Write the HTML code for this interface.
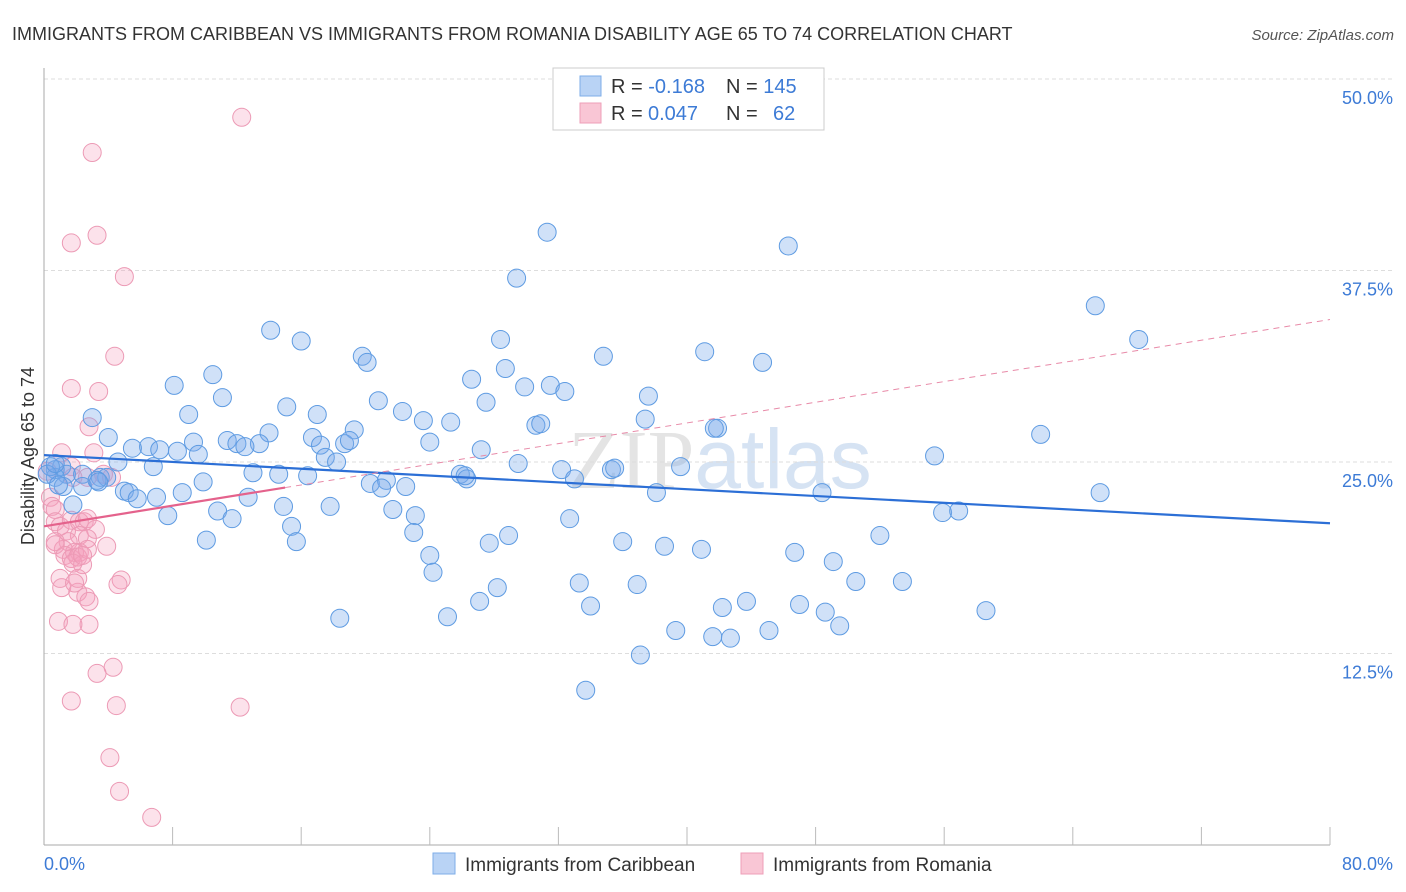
<!DOCTYPE html>
<html><head><meta charset="utf-8">
<style>
body{margin:0;background:#fff;font-family:"Liberation Sans",sans-serif;}
#wrap{position:relative;width:1406px;height:892px;overflow:hidden;}
</style></head>
<body>
<div id="wrap">
<svg id="chart" width="1406" height="892" xmlns="http://www.w3.org/2000/svg">
  <text x="12" y="40" font-size="18" fill="#333">IMMIGRANTS FROM CARIBBEAN VS IMMIGRANTS FROM ROMANIA DISABILITY AGE 65 TO 74 CORRELATION CHART</text>
  <text x="1394" y="40" font-size="15" fill="#555" font-style="italic" text-anchor="end">Source: ZipAtlas.com</text>
  <text x="720" y="488" font-size="84" fill="#e4e4e4" text-anchor="middle" font-family="Liberation Serif, serif">ZIP<tspan font-family="Liberation Sans, sans-serif" fill="#d6e3f3">atlas</tspan></text>
  <g id="grid"></g>
  <g id="axes"></g>
  <g id="pts"></g>
  <g id="trend"></g>
  <text transform="translate(34,456) rotate(-90)" font-size="18" fill="#333" text-anchor="middle">Disability Age 65 to 74</text>
  <g>
    <rect x="553" y="68" width="271" height="62" fill="#fff" stroke="#ccc"/>
    <rect x="580" y="76" width="21" height="20" fill="#b9d3f5" stroke="#7eaee8"/>
    <rect x="580" y="103" width="21" height="20" fill="#f9c6d5" stroke="#ee9fb8"/>
    <text x="611" y="93" font-size="20" fill="#333">R = <tspan fill="#3d7bd6">-0.168</tspan><tspan x="726">N = </tspan><tspan fill="#3d7bd6">145</tspan></text>
    <text x="611" y="120" font-size="20" fill="#333">R = <tspan fill="#3d7bd6" x="648">0.047</tspan><tspan x="726">N = </tspan><tspan fill="#3d7bd6" x="773">62</tspan></text>
  </g>
  <g>
    <rect x="433" y="853" width="22" height="21" fill="#b9d3f5" stroke="#7eaee8"/>
    <text x="465" y="871" font-size="19" fill="#333">Immigrants from Caribbean</text>
    <rect x="741" y="853" width="22" height="21" fill="#f9c6d5" stroke="#ee9fb8"/>
    <text x="773" y="871" font-size="19" fill="#333">Immigrants from Romania</text>
  </g>
</svg>
</div>
<script>
const xTickLabels = ["0.0%", "80.0%"];
const yTickValues = [12.5, 25, 37.5, 50];
const yTickLabels = ["12.5%", "25.0%", "37.5%", "50.0%"];
const caribX = [31.3,46.3,29.4,65.4,68.1,14.1,16.0,19.8,20.1,34.8,41.1,44.7,28.4,28.7,26.6,8.1,10.5,29.9,31.5,32.4,37.6,11.1,20.8,15.1,27.5,9.0,17.0,22.3,23.6,25.3,30.6,30.9,37.4,3.0,41.9,41.7,62.0,4.0,14.0,19.3,11.4,12.0,13.4,12.5,16.7,17.2,18.7,19.0,24.0,6.5,7.2,5.5,8.3,9.3,9.6,27.2,55.4,17.5,18.2,4.6,6.8,1.1,0.7,1.4,2.4,3.5,3.9,13.0,14.6,16.4,21.3,25.9,26.3,29.5,32.2,35.3,35.5,39.6,0.7,1.2,2.4,3.3,3.4,5.0,5.3,5.8,7.0,8.6,9.9,20.3,21.0,22.5,26.2,33.0,38.1,48.4,65.7,1.8,7.7,10.8,11.7,12.7,14.9,17.8,21.7,23.1,55.9,56.9,15.4,23.0,28.9,10.1,15.7,27.7,32.7,36.0,38.6,40.9,52.0,24.0,24.2,46.7,49.1,33.3,36.9,28.2,50.5,53.4,34.0,42.2,43.7,47.0,58.6,48.6,18.4,25.1,27.1,39.3,41.6,42.7,45.1,49.5,37.1,33.7,0.4,0.2,0.7,0.9];
const caribY = [40.0,39.1,37.0,35.2,33.0,33.6,32.9,31.9,31.5,31.9,32.2,31.5,33.0,31.1,30.4,30.0,30.7,29.9,30.0,29.6,29.3,29.2,29.0,28.6,28.9,28.1,28.1,28.3,27.7,27.6,27.4,27.5,27.8,27.9,27.2,27.2,26.8,26.6,26.9,27.1,26.4,26.2,26.2,26.0,26.6,26.1,26.2,26.4,26.3,26.0,25.8,25.9,25.7,26.3,25.5,25.8,25.4,25.3,25.0,25.0,24.7,24.7,24.5,24.2,24.2,24.0,24.0,24.3,24.2,24.1,23.8,24.2,23.9,24.9,24.5,24.5,24.6,24.7,24.0,23.4,23.4,23.8,23.7,23.1,23.0,22.6,22.7,23.0,23.7,23.6,23.3,23.4,24.1,23.9,23.0,23.0,23.0,22.2,21.5,21.8,21.3,22.7,22.1,22.1,21.9,21.5,21.7,21.8,20.8,20.4,20.2,19.9,19.8,19.7,21.3,19.8,19.5,19.3,20.2,18.9,17.8,19.1,18.5,17.1,17.0,16.8,17.2,17.2,15.6,15.5,15.9,15.7,15.3,15.2,14.8,14.9,15.9,14.0,13.6,13.5,14.0,14.3,12.4,10.1,24.7,24.2,24.9,23.5];
const romX = [12.3,3.0,1.7,3.3,5.0,4.4,1.7,3.4,2.8,1.1,3.1,1.7,1.8,2.7,3.7,4.2,0.2,0.4,0.5,0.7,0.7,1.0,1.4,1.7,2.2,2.5,2.7,3.2,2.2,2.7,1.5,1.2,0.7,0.7,2.2,1.9,1.3,1.7,2.1,2.4,1.8,2.7,2.4,3.9,1.1,2.1,1.0,2.6,4.8,4.6,2.1,1.9,0.9,2.8,2.8,1.8,4.3,3.3,1.7,4.5,12.2,4.1,4.7,6.7];
const romY = [47.5,45.2,39.3,39.8,37.1,31.9,29.8,29.6,27.3,25.6,25.6,24.7,24.0,24.0,24.2,24.0,24.4,22.7,22.1,21.9,21.1,20.8,20.5,21.2,21.1,21.1,21.3,20.6,20.2,20.0,19.8,19.3,19.8,19.6,19.1,19.1,18.9,18.7,18.8,18.3,18.4,19.3,18.9,19.5,16.8,16.5,17.4,16.2,17.3,17.0,17.4,17.1,14.6,14.4,15.9,14.4,11.6,11.2,9.4,9.1,9.0,5.7,3.5,1.8];
const caribTrend = [25.45, 21.0];
const romTrend = [20.8, 34.3];
const romSolidEnd = 15.0;

const NS = "http://www.w3.org/2000/svg";
const X0 = 44, X1 = 1330, Y0 = 845, Y50 = 79;
function sx(v){ return X0 + v / 80 * (X1 - X0); }
function sy(v){ return Y0 - v / 50 * (Y0 - Y50); }
function mk(tag, attrs, parent){
  const e = document.createElementNS(NS, tag);
  for (const k in attrs) e.setAttribute(k, attrs[k]);
  parent.appendChild(e);
  return e;
}
const grid = document.getElementById('grid');
const axes = document.getElementById('axes');
yTickValues.forEach((v, i) => {
  const l = mk('line', {x1: X0, x2: 1394, y1: sy(v), y2: sy(v), stroke: '#ddd', 'stroke-dasharray': '4,3'}, grid);
  
  
  const t = mk('text', {x: 1393, y: sy(v) + 25, 'font-size': 18, fill: '#3d7bd6', 'text-anchor': 'end'}, axes);
  t.textContent = yTickLabels[i];
  
  
});
const al = mk('line', {x1: X0, x2: X0, y1: 68, y2: Y0, stroke: '#aaa'}, axes);


const bl = mk('line', {x1: X0, x2: X1, y1: Y0, y2: Y0, stroke: '#aaa'}, axes);


for (let i = 1; i <= 10; i++) {
  const tk = mk('line', {x1: sx(i * 8), x2: sx(i * 8), y1: 827, y2: Y0, stroke: '#bbb'}, axes);
  
  
}
const xl0 = mk('text', {x: 44, y: 870, 'font-size': 18, fill: '#3d7bd6'}, axes);
xl0.textContent = xTickLabels[0];


const xl1 = mk('text', {x: 1393, y: 870, 'font-size': 18, fill: '#3d7bd6', 'text-anchor': 'end'}, axes);
xl1.textContent = xTickLabels[1];



const pts = document.getElementById('pts');
romX.forEach((v, i) => {
  const c = mk('circle', {cx: sx(v), cy: sy(romY[i]), r: 9, fill: 'rgba(244,160,188,0.3)', stroke: '#ec9ab5', 'stroke-width': 1}, pts);
  
  
});
caribX.forEach((v, i) => {
  const c = mk('circle', {cx: sx(v), cy: sy(caribY[i]), r: 9, fill: 'rgba(120,170,235,0.35)', stroke: '#5e9be2', 'stroke-width': 1}, pts);
  
  
});
const tr = document.getElementById('trend');
const bt = mk('line', {x1: sx(0), y1: sy(caribTrend[0]), x2: sx(80), y2: sy(caribTrend[1]), stroke: '#2c6fd6', 'stroke-width': 2.2}, tr);


const romAt = v => romTrend[0] + (romTrend[1] - romTrend[0]) * v / 80;
const pd = mk('line', {x1: sx(romSolidEnd), y1: sy(romAt(romSolidEnd)), x2: sx(80), y2: sy(romTrend[1]), stroke: '#e88aa8', 'stroke-width': 1, 'stroke-dasharray': '6,5'}, tr);


const ps = mk('line', {x1: sx(0), y1: sy(romTrend[0]), x2: sx(romSolidEnd), y2: sy(romAt(romSolidEnd)), stroke: '#e4628c', 'stroke-width': 2.2}, tr);


</script>
</body></html>
